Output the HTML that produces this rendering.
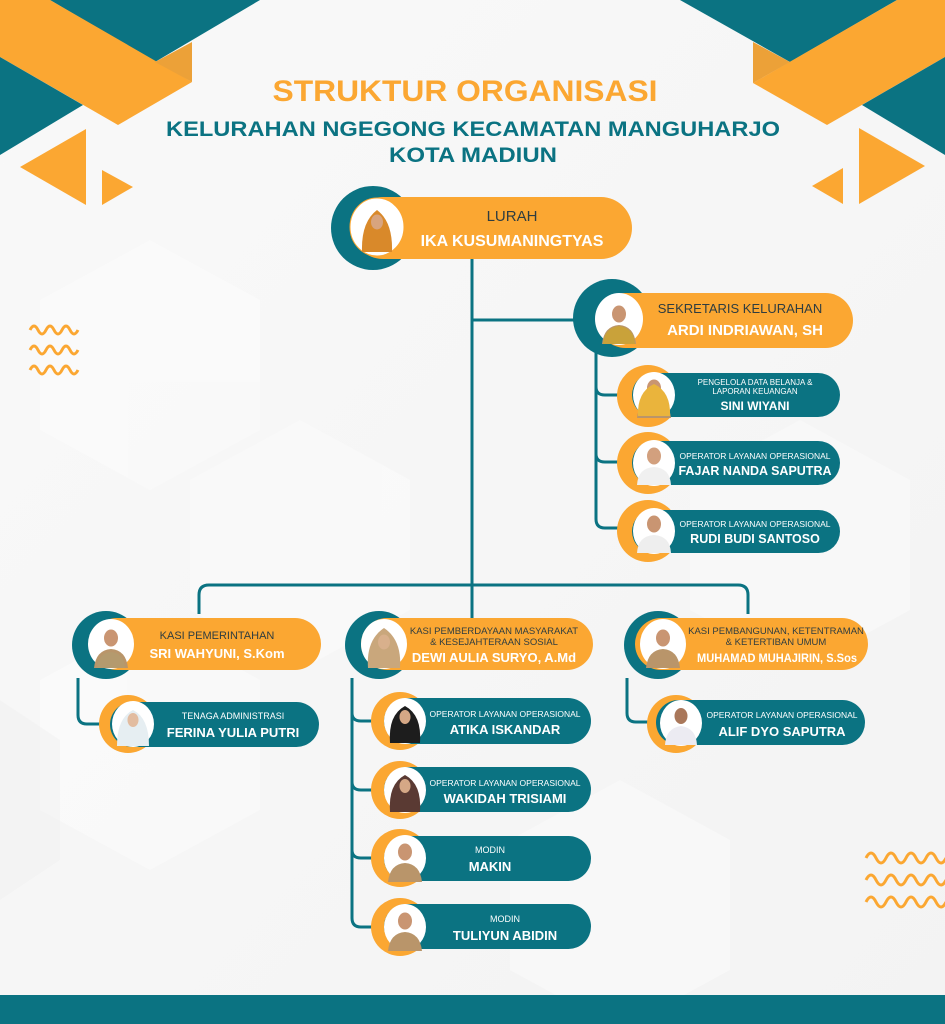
<!DOCTYPE html>
<html><head><meta charset="utf-8"><style>
html,body{margin:0;padding:0;width:945px;height:1024px;overflow:hidden;background:#f6f6f6}
svg{display:block}
text{font-family:"Liberation Sans",sans-serif}
</style></head><body>
<svg width="945" height="1024" viewBox="0 0 945 1024" xmlns="http://www.w3.org/2000/svg">
<defs>
<linearGradient id="bg" x1="0" y1="0" x2="1" y2="1"><stop offset="0" stop-color="#f9f9f9"/><stop offset="1" stop-color="#f3f3f3"/></linearGradient>
<g id="person"><ellipse cx="0" cy="-8" rx="7" ry="8.5" fill="#c99572"/><path d="M-17 22 Q-15 4 0 3 Q15 4 17 22 Z" fill="#b9956a"/></g>
</defs>
<rect width="945" height="1024" fill="url(#bg)"/>
<g fill="#ffffff" opacity="0.35">
<polygon points="150,240 260,300 260,430 150,490 40,430 40,300"/>
<polygon points="150,620 260,680 260,810 150,870 40,810 40,680"/>
<polygon points="800,420 910,480 910,610 800,670 690,610 690,480"/>
<polygon points="620,780 730,840 730,970 620,1030 510,970 510,840"/>
<polygon points="300,420 410,480 410,610 300,670 190,610 190,480"/>
</g>
<g fill="#ececec" opacity="0.3">
<polygon points="0,700 60,740 60,860 0,900"/>
</g>
<polygon points="50,0 260,0 155,62" fill="#0b7382"/>
<polygon points="0,0 50,0 192,82 118,125 0,57" fill="#fba732"/>
<polygon points="155,62 192,42 192,82" fill="#eca138"/>
<polygon points="0,57 83,105 0,155" fill="#0b7382"/>
<polygon points="20,167 86,129 86,205" fill="#fba732"/>
<polygon points="102,170 133,187 102,205" fill="#fba732"/>
<polygon points="680,0 897,0 790,62" fill="#0b7382"/>
<polygon points="897,0 945,0 945,57 827,125 753,83" fill="#fba732"/>
<polygon points="753,42 790,62 753,83" fill="#eca138"/>
<polygon points="945,57 862,105 945,155" fill="#0b7382"/>
<polygon points="859,128 925,166 859,204" fill="#fba732"/>
<polygon points="843,168 812,186 843,204" fill="#fba732"/>
<g fill="none" stroke="#fba732" stroke-width="3">
<path d="M30 330 q4 -8 8 0 t8 0 t8 0 t8 0 t8 0 t8 0"/>
<path d="M30 350 q4 -8 8 0 t8 0 t8 0 t8 0 t8 0 t8 0"/>
<path d="M30 370 q4 -8 8 0 t8 0 t8 0 t8 0 t8 0 t8 0"/>
<path d="M866 858 q5 -10 10 0 t10 0 t10 0 t10 0 t10 0 t10 0 t10 0 t10 0"/>
<path d="M866 880 q5 -10 10 0 t10 0 t10 0 t10 0 t10 0 t10 0 t10 0 t10 0"/>
<path d="M866 902 q5 -10 10 0 t10 0 t10 0 t10 0 t10 0 t10 0 t10 0 t10 0"/>
</g>
<text x="465" y="101" text-anchor="middle" font-size="30" font-weight="bold" fill="#fba732" textLength="385" lengthAdjust="spacingAndGlyphs">STRUKTUR ORGANISASI</text>
<text x="473" y="136" text-anchor="middle" font-size="21" font-weight="bold" fill="#0b7382" textLength="614" lengthAdjust="spacingAndGlyphs">KELURAHAN NGEGONG KECAMATAN MANGUHARJO</text>
<text x="473" y="162" text-anchor="middle" font-size="21" font-weight="bold" fill="#0b7382" textLength="168" lengthAdjust="spacingAndGlyphs">KOTA MADIUN</text>
<g fill="none" stroke="#0b7382" stroke-width="3">
<path d="M472 258 V618"/>
<path d="M472 320 H592"/>
<path d="M596 352 V519 q0 9 9 9 H622"/>
<path d="M596 387 q0 8 9 8 H622"/>
<path d="M596 454 q0 8 9 8 H622"/>
<path d="M199 614 V595 q0 -10 10 -10 H738 q10 0 10 10 V614"/>
<path d="M78 678 V715 q0 9 9 9 H102"/>
<path d="M352 678 V918 q0 9 9 9 H376"/>
<path d="M352 713 q0 8 9 8 H376"/>
<path d="M352 782 q0 8 9 8 H376"/>
<path d="M352 850 q0 8 9 8 H376"/>
<path d="M627 678 V713 q0 9 9 9 H652"/>
</g>
<circle cx="373" cy="228" r="42" fill="#0b7382"/>
<rect x="352" y="197" width="280" height="62" rx="31" fill="#fba732"/>
<ellipse cx="377" cy="227" rx="27" ry="29" fill="#fff" stroke="#fba732" stroke-width="1"/>
<path d="M362 252 Q361 222 377 210 Q393 222 392 252 Z" fill="#d9892a"/>
<ellipse cx="377" cy="222" rx="6" ry="7.5" fill="#d8a47f"/>
<text x="512" y="221" text-anchor="middle" font-size="15" fill="#2f3d40">LURAH</text>
<text x="512" y="246" text-anchor="middle" font-size="16" font-weight="bold" fill="#fff">IKA KUSUMANINGTYAS</text>
<circle cx="612" cy="318" r="39" fill="#0b7382"/>
<rect x="598" y="293" width="255" height="55" rx="27.5" fill="#fba732"/>
<ellipse cx="619" cy="319" rx="24" ry="26" fill="#fff"/>
<use href="#person" x="619" y="322"/>
<path d="M603 344 Q604 328 619 326 Q634 328 635 344 Z" fill="#c9a23a"/>
<text x="740" y="313" text-anchor="middle" font-size="13" fill="#2f3d40">SEKRETARIS KELURAHAN</text>
<text x="745" y="335" text-anchor="middle" font-size="15" font-weight="bold" fill="#fff">ARDI INDRIAWAN, SH</text>
<g>
<circle cx="648" cy="396" r="31" fill="#fba732"/>
<rect x="632" y="373" width="208" height="44" rx="22" fill="#0b7382"/>
<ellipse cx="654" cy="395" rx="21" ry="23" fill="#fff"/>
<use href="#person" x="654" y="396"/>
<path d="M638 416 Q637 392 654 384 Q671 392 670 416 Z" fill="#eab43c"/>
<text x="755" y="385" text-anchor="middle" font-size="8" fill="#fff">PENGELOLA DATA BELANJA &amp;</text>
<text x="755" y="394" text-anchor="middle" font-size="8" fill="#fff">LAPORAN KEUANGAN</text>
<text x="755" y="410" text-anchor="middle" font-size="12" font-weight="bold" fill="#fff">SINI WIYANI</text>
</g>
<g>
<circle cx="648" cy="463" r="31" fill="#fba732"/>
<rect x="632" y="441" width="208" height="44" rx="22" fill="#0b7382"/>
<ellipse cx="654" cy="463" rx="21" ry="23" fill="#fff"/>
<ellipse cx="654" cy="456" rx="7" ry="8.5" fill="#d2a07e"/>
<path d="M637 485 Q638 468 654 467 Q670 468 671 485 Z" fill="#f0f0f0"/>
<text x="755" y="459" text-anchor="middle" font-size="8.5" fill="#fff">OPERATOR LAYANAN OPERASIONAL</text>
<text x="755" y="475" text-anchor="middle" font-size="12.5" font-weight="bold" fill="#fff">FAJAR NANDA SAPUTRA</text>
</g>
<g>
<circle cx="648" cy="531" r="31" fill="#fba732"/>
<rect x="632" y="510" width="208" height="43" rx="21.5" fill="#0b7382"/>
<ellipse cx="654" cy="531" rx="21" ry="23" fill="#fff"/>
<ellipse cx="654" cy="524" rx="7" ry="8.5" fill="#c99572"/>
<path d="M637 553 Q638 536 654 535 Q670 536 671 553 Z" fill="#eeeeee"/>
<text x="755" y="527" text-anchor="middle" font-size="8.5" fill="#fff">OPERATOR LAYANAN OPERASIONAL</text>
<text x="755" y="543" text-anchor="middle" font-size="12.5" font-weight="bold" fill="#fff">RUDI BUDI SANTOSO</text>
</g>
<circle cx="106" cy="645" r="34" fill="#0b7382"/>
<rect x="91" y="618" width="230" height="52" rx="26" fill="#fba732"/>
<ellipse cx="111" cy="644" rx="23" ry="25" fill="#fff"/>
<use href="#person" x="111" y="646"/>
<path d="M97 668 Q98 653 111 652 Q124 653 125 668 Z" fill="#b49a6e"/>
<text x="217" y="639" text-anchor="middle" font-size="11" fill="#2f3d40">KASI PEMERINTAHAN</text>
<text x="217" y="658" text-anchor="middle" font-size="13" font-weight="bold" fill="#fff">SRI WAHYUNI, S.Kom</text>
<circle cx="379" cy="645" r="34" fill="#0b7382"/>
<rect x="361" y="618" width="232" height="52" rx="26" fill="#fba732"/>
<ellipse cx="384" cy="644" rx="23" ry="25" fill="#fff"/>
<path d="M368 668 Q366 640 384 628 Q402 640 400 668 Z" fill="#c9a77c"/>
<ellipse cx="384" cy="642" rx="6" ry="7.5" fill="#d8b08c"/>
<text x="494" y="634" text-anchor="middle" font-size="9.5" fill="#2f3d40">KASI PEMBERDAYAAN MASYARAKAT</text>
<text x="494" y="645" text-anchor="middle" font-size="9.5" fill="#2f3d40">&amp; KESEJAHTERAAN SOSIAL</text>
<text x="494" y="662" text-anchor="middle" font-size="13" font-weight="bold" fill="#fff">DEWI AULIA SURYO, A.Md</text>
<circle cx="658" cy="645" r="34" fill="#0b7382"/>
<rect x="635" y="618" width="233" height="52" rx="26" fill="#fba732"/>
<ellipse cx="663" cy="644" rx="23" ry="25" fill="#fff"/>
<use href="#person" x="663" y="646"/>
<text x="776" y="634" text-anchor="middle" font-size="9.5" fill="#2f3d40">KASI PEMBANGUNAN, KETENTRAMAN</text>
<text x="776" y="645" text-anchor="middle" font-size="9.5" fill="#2f3d40">&amp; KETERTIBAN UMUM</text>
<text x="777" y="662" text-anchor="middle" font-size="12" font-weight="bold" fill="#fff" textLength="160" lengthAdjust="spacingAndGlyphs">MUHAMAD MUHAJIRIN, S.Sos</text>
<circle cx="128" cy="724" r="29" fill="#fba732"/>
<rect x="110" y="702" width="209" height="45" rx="22.5" fill="#0b7382"/>
<ellipse cx="133" cy="724" rx="21" ry="23" fill="#fff"/>
<path d="M117 746 Q117 718 133 710 Q149 718 149 746 Z" fill="#e6eef2"/>
<ellipse cx="133" cy="720" rx="5.5" ry="7" fill="#e2bca0"/>
<text x="233" y="719" text-anchor="middle" font-size="9" fill="#fff">TENAGA ADMINISTRASI</text>
<text x="233" y="737" text-anchor="middle" font-size="13" font-weight="bold" fill="#fff">FERINA YULIA PUTRI</text>
<circle cx="400" cy="721" r="29" fill="#fba732"/>
<rect x="384" y="698" width="207" height="46" rx="23" fill="#0b7382"/>
<ellipse cx="405" cy="721" rx="21" ry="23" fill="#fff"/>
<path d="M390 743 Q388 715 405 706 Q422 715 420 743 Z" fill="#1d1d1d"/>
<ellipse cx="405" cy="717" rx="5.5" ry="7" fill="#d5a886"/>
<text x="505" y="717" text-anchor="middle" font-size="8.5" fill="#fff">OPERATOR LAYANAN OPERASIONAL</text>
<text x="505" y="734" text-anchor="middle" font-size="13" font-weight="bold" fill="#fff">ATIKA ISKANDAR</text>
<circle cx="400" cy="790" r="29" fill="#fba732"/>
<rect x="384" y="767" width="207" height="45" rx="22.5" fill="#0b7382"/>
<ellipse cx="405" cy="790" rx="21" ry="23" fill="#fff"/>
<path d="M390 812 Q388 784 405 775 Q422 784 420 812 Z" fill="#5a3a33"/>
<ellipse cx="405" cy="786" rx="5.5" ry="7" fill="#d5a886"/>
<text x="505" y="786" text-anchor="middle" font-size="8.5" fill="#fff">OPERATOR LAYANAN OPERASIONAL</text>
<text x="505" y="803" text-anchor="middle" font-size="13" font-weight="bold" fill="#fff">WAKIDAH TRISIAMI</text>
<circle cx="400" cy="858" r="29" fill="#fba732"/>
<rect x="384" y="836" width="207" height="45" rx="22.5" fill="#0b7382"/>
<ellipse cx="405" cy="858" rx="21" ry="23" fill="#fff"/>
<use href="#person" x="405" y="860"/>
<text x="490" y="853" text-anchor="middle" font-size="9" fill="#fff">MODIN</text>
<text x="490" y="871" text-anchor="middle" font-size="13" font-weight="bold" fill="#fff">MAKIN</text>
<circle cx="400" cy="927" r="29" fill="#fba732"/>
<rect x="384" y="904" width="207" height="45" rx="22.5" fill="#0b7382"/>
<ellipse cx="405" cy="927" rx="21" ry="23" fill="#fff"/>
<use href="#person" x="405" y="929"/>
<text x="505" y="922" text-anchor="middle" font-size="9" fill="#fff">MODIN</text>
<text x="505" y="940" text-anchor="middle" font-size="13" font-weight="bold" fill="#fff">TULIYUN ABIDIN</text>
<circle cx="676" cy="724" r="29" fill="#fba732"/>
<rect x="656" y="700" width="209" height="45" rx="22.5" fill="#0b7382"/>
<ellipse cx="681" cy="723" rx="21" ry="23" fill="#fff"/>
<ellipse cx="681" cy="716" rx="6.5" ry="8" fill="#a9775a"/>
<path d="M665 745 Q666 728 681 726 Q696 728 697 745 Z" fill="#ecebf2"/>
<text x="782" y="718" text-anchor="middle" font-size="8.5" fill="#fff">OPERATOR LAYANAN OPERASIONAL</text>
<text x="782" y="736" text-anchor="middle" font-size="13" font-weight="bold" fill="#fff">ALIF DYO SAPUTRA</text>
<rect x="0" y="995" width="945" height="29" fill="#0b7382"/>
</svg>
</body></html>
